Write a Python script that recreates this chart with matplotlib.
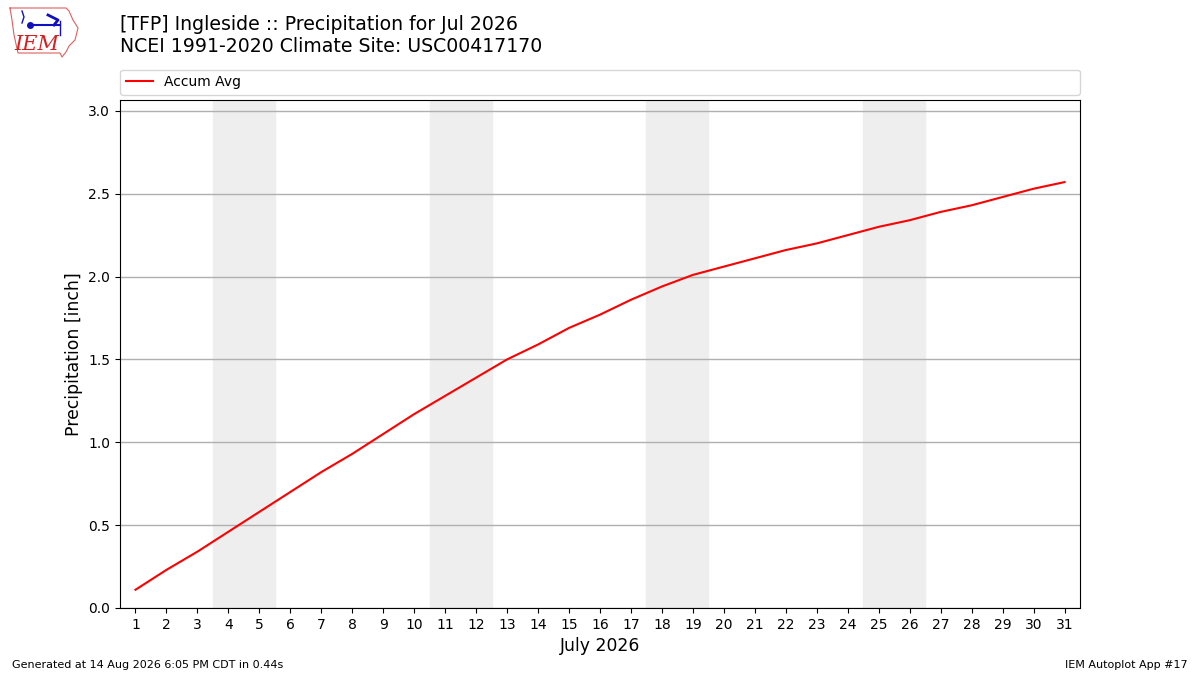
import numpy as np
import matplotlib
matplotlib.use('Agg')
import matplotlib.pyplot as plt
from matplotlib.lines import Line2D

# day of month and accumulated average precipitation (inch)
days = list(range(1, 32))
accum_avg = [0.11, 0.23, 0.34, 0.46, 0.58, 0.70, 0.82, 0.93, 1.05, 1.17,
             1.28, 1.39, 1.50, 1.59, 1.69, 1.77, 1.86, 1.94, 2.01, 2.06,
             2.11, 2.16, 2.20, 2.25, 2.30, 2.34, 2.39, 2.43, 2.48, 2.53,
             2.57]
weekends = [(4, 5), (11, 12), (18, 19), (25, 26)]

title = "[TFP] Ingleside :: Precipitation for Jul 2026\nNCEI 1991-2020 Climate Site: USC00417170"
footer_left = "Generated at 14 Aug 2026 6:05 PM CDT in 0.44s"
footer_right = "IEM Autoplot App #17"

W, H = 1200, 675
fig = plt.figure(figsize=(12, 6.75), dpi=100)
ax = fig.add_axes([0.1, 0.0993, 0.8, 0.7527])

for start, end in weekends:
    ax.axvspan(start - 0.5, end + 0.5, color='#eeeeee', zorder=0)

ax.plot(days, accum_avg, color='r', lw=1.5, label='Accum Avg', zorder=3)

ax.set_xlim(0.5, 31.5)
ax.set_ylim(0, 3.066)
ax.set_xticks(days)
ax.set_yticks(np.arange(0, 3.01, 0.5))
ax.grid(axis='y', color='#b0b0b0', lw=1)
ax.set_axisbelow(True)
ax.tick_params(labelsize=10)
ax.set_xlabel("July 2026", fontsize=12.4)
ax.set_ylabel("Precipitation [inch]", fontsize=12.4)

ax.legend(loc='lower left', bbox_to_anchor=(0, 1.01, 1, 0.05), mode='expand',
          ncol=1, fontsize=10, borderaxespad=0, frameon=True)

fig.text(0.1, 1 - 35.5 / H, title, fontsize=13.6, va='center', ha='left')

# rough stand-in for the IEM logo (Iowa outline, wind vane, text)
def px(xs, ys):
    return [x / W for x in xs], [1 - y / H for y in ys]

ox, oy = px([10, 66, 69, 73, 78, 75, 69, 66, 62, 60, 18, 14, 12, 10],
            [8, 8, 11, 20, 28, 40, 46, 52, 57, 53, 53, 35, 20, 8])
fig.add_artist(Line2D(ox, oy, color='#e06060', lw=0.8))
vx, vy = px([30, 60], [25, 25])
fig.add_artist(Line2D(vx, vy, color='#1010c0', lw=1.5))
vx, vy = px([48, 58, 54], [15, 20, 25])
fig.add_artist(Line2D(vx, vy, color='#1010c0', lw=2))
vx, vy = px([60, 60], [21, 35])
fig.add_artist(Line2D(vx, vy, color='#1010c0', lw=1))
vx, vy = px([22, 24, 22], [11, 17, 23])
fig.add_artist(Line2D(vx, vy, color='#1010c0', lw=1))
dx, dy = px([30], [25])
fig.add_artist(Line2D(dx, dy, color='#1010c0', marker='o', ms=4, lw=0))
fig.text(37 / W, 1 - 45 / H, "IEM", color='#d42020', fontsize=15, style='italic',
         family='DejaVu Serif', ha='center', va='center')

fig.text(0.01, 1 - 665 / H, footer_left, fontsize=8, ha='left', va='center')
fig.text(0.99, 1 - 665 / H, footer_right, fontsize=8, ha='right', va='center')

fig.savefig('out.png', dpi=100)
